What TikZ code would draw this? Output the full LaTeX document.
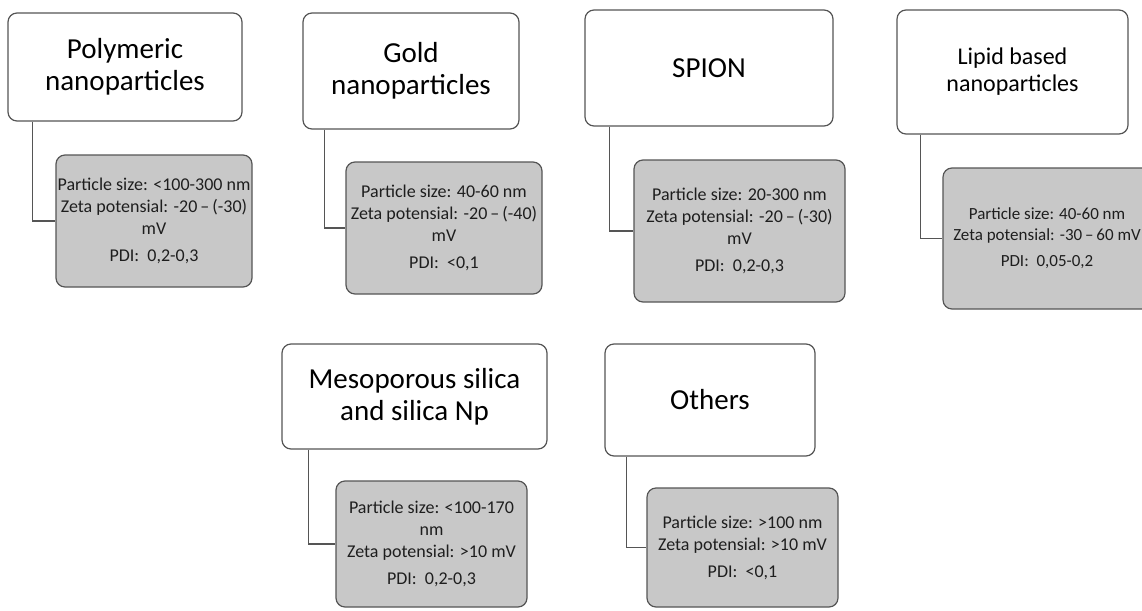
\documentclass[tikz,border=0pt]{standalone}
\usepackage{fontspec}
\setmainfont{Carlito}
\definecolor{bordc}{RGB}{85,85,85}
\definecolor{greyc}{RGB}{200,200,200}
\definecolor{textc}{RGB}{30,30,30}
\begin{document}
\begin{tikzpicture}[x=1pt,y=-1pt,
  title/.style={draw=bordc, line width=1.2pt, rounded corners=9pt, fill=white, align=center,
    font=\fontsize{29}{32}\selectfont, text=black, inner sep=0pt},
  info/.style={draw=bordc, line width=1.2pt, rounded corners=9pt, fill=greyc, align=center,
    font=\fontsize{18}{22}\selectfont, text=textc, inner sep=0pt},
  link/.style={draw=bordc, line width=1.2pt}]
\useasboundingbox (0,0) rectangle (1142,610);

% top row
\node[title, minimum width=234pt, minimum height=108pt] (t1) at (125,67) {Polymeric\\nanoparticles};
\node[info, minimum width=196pt, minimum height=132pt] (g1) at (154,221)
  {Particle size: <100-300 nm\\Zeta potensial: -20\,–\,(-30)\\mV\\[5pt]PDI:~ 0,2-0,3};

\node[title, minimum width=216pt, minimum height=116pt] (t2) at (411,71) {Gold\\nanoparticles};
\node[info, minimum width=196pt, minimum height=132pt] (g2) at (444,228)
  {Particle size: 40-60 nm\\Zeta potensial: -20\,–\,(-40)\\mV\\[5pt]PDI:~ <0,1};

\node[title, minimum width=248pt, minimum height=116pt] (t3) at (709,68) {SPION};
\node[info, minimum width=211pt, minimum height=142pt] (g3) at (739.5,231)
  {Particle size: 20-300 nm\\Zeta potensial: -20\,–\,(-30)\\mV\\[5pt]PDI:~ 0,2-0,3};

\node[title, minimum width=231pt, minimum height=124pt, font=\fontsize{24}{27}\selectfont] (t4) at (1012.5,72) {Lipid based\\nanoparticles};
\node[info, minimum width=208pt, minimum height=141pt, font=\fontsize{17}{21}\selectfont] (g4) at (1047,238.5)
  {Particle size: 40-60 nm\\Zeta potensial: -30\,–\,60 mV\\[5pt]PDI:~ 0,05-0,2};

% bottom row
\node[title, minimum width=265pt, minimum height=105pt] (t5) at (414.5,396.5) {Mesoporous silica\\and silica Np};
\node[info, minimum width=191pt, minimum height=126pt] (g5) at (431.5,544)
  {Particle size: <100-170\\nm\\Zeta potensial: >10 mV\\[5pt]PDI:~ 0,2-0,3};

\node[title, minimum width=210pt, minimum height=112pt] (t6) at (710,400) {Others};
\node[info, minimum width=191pt, minimum height=119pt] (g6) at (742.5,547.5)
  {Particle size: >100 nm\\Zeta potensial: >10 mV\\[5pt]PDI:~ <0,1};

% connectors
\draw[link] ([xshift=25pt]t1.south west) |- (g1.west);
\draw[link] ([xshift=22pt]t2.south west) |- (g2.west);
\draw[link] ([xshift=25pt]t3.south west) |- (g3.west);
\draw[link] ([xshift=24pt]t4.south west) |- (g4.west);
\draw[link] ([xshift=27pt]t5.south west) |- (g5.west);
\draw[link] ([xshift=22pt]t6.south west) |- (g6.west);
\end{tikzpicture}
\end{document}
